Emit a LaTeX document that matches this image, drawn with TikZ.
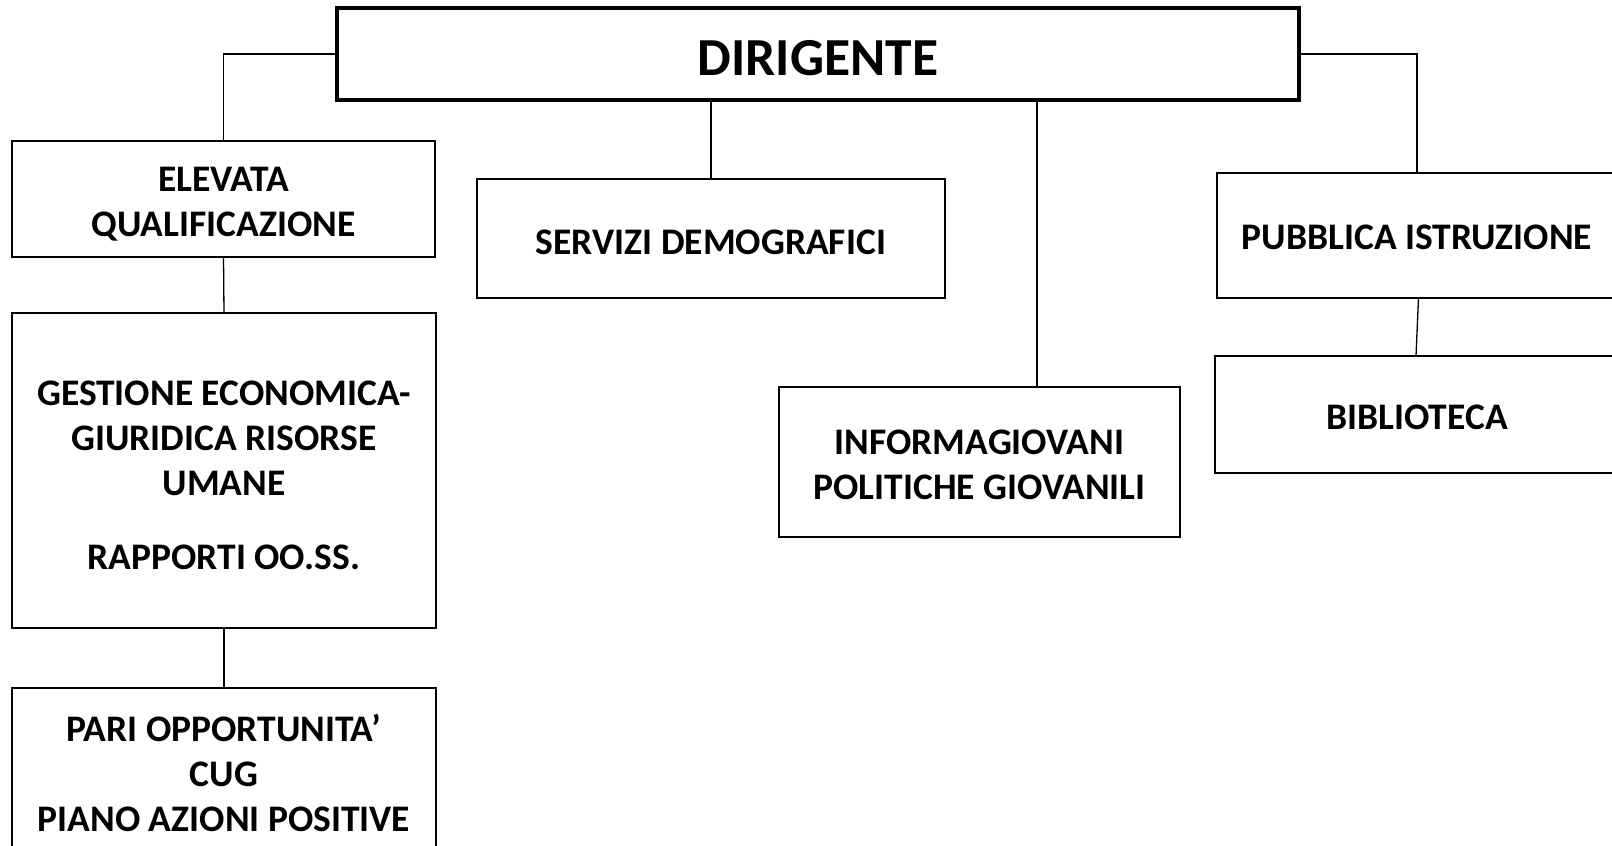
\documentclass[tikz,border=0pt]{standalone}
\usepackage{fontspec}
\setmainfont{Carlito}
\begin{document}
\begin{tikzpicture}[x=1pt,y=1pt,
  box/.style={draw=black, line width=1.3pt, inner sep=0pt, outer sep=0pt, anchor=north west},
  bigbox/.style={box, line width=4.5pt},
  txt/.style={inner sep=0pt, align=center, font=\bfseries\fontsize{37.5}{45}\selectfont},
  bigtxt/.style={inner sep=0pt, font=\bfseries\fontsize{53.5}{60}\selectfont},
  conn/.style={draw=black, line width=1.3pt}]
\useasboundingbox (0,0) rectangle (1612,-846);
% boxes
\node[bigbox, minimum width=962, minimum height=92] (dir) at (337,-8) {};
\node[box, minimum width=423, minimum height=116] (elev) at (12,-141) {};
\node[box, minimum width=424, minimum height=315] (gest) at (12,-313) {};
\node[box, minimum width=424, minimum height=168] (pari) at (12,-688) {};
\node[box, minimum width=468, minimum height=119] (serv) at (477,-179) {};
\node[box, minimum width=401, minimum height=150] (info) at (779,-387) {};
\node[box, minimum width=400, minimum height=125] (pubb) at (1217,-173) {};
\node[box, minimum width=404, minimum height=117] (bibl) at (1215,-356) {};
% texts
\node[bigtxt] (tdir) at ([yshift=-4pt]dir.center) {DIRIGENTE};
\node[txt] (telev) at ([yshift=-5pt]elev.center) {ELEVATA\\QUALIFICAZIONE};
\node[txt] (tgest) at ([yshift=-5pt]gest.center) {GESTIONE ECONOMICA-\\GIURIDICA RISORSE\\UMANE\\[29pt]RAPPORTI OO.SS.};
\node[txt] (tpari) at ([yshift=-1pt]pari.center) {PARI OPPORTUNITA’\\CUG\\PIANO AZIONI POSITIVE};
\node[txt] (tserv) at ([yshift=-4pt]serv.center) {SERVIZI DEMOGRAFICI};
\node[txt] (tinfo) at ([yshift=-3pt]info.center) {INFORMAGIOVANI\\POLITICHE GIOVANILI};
\node[txt] (tpubb) at ([yshift=-2pt]pubb.center) {PUBBLICA ISTRUZIONE};
\node[txt] (tbibl) at ([yshift=-3pt]bibl.center) {BIBLIOTECA};
% connectors
\draw[conn] (dir.west) -| (elev.north);
\draw[conn] (dir.east) -| (pubb.north);
\draw[conn] (serv.north) -- (serv.north |- dir.south);
\draw[conn] ([xshift=57.5pt]info.north) -- ([xshift=57.5pt]info.north |- dir.south);
\draw[conn] ([xshift=1.5pt]pubb.south) -- ([xshift=-1pt]bibl.north);
\draw[conn] (elev.south) -- (gest.north);
\draw[conn] (gest.south) -- (pari.north);
\end{tikzpicture}
\end{document}
